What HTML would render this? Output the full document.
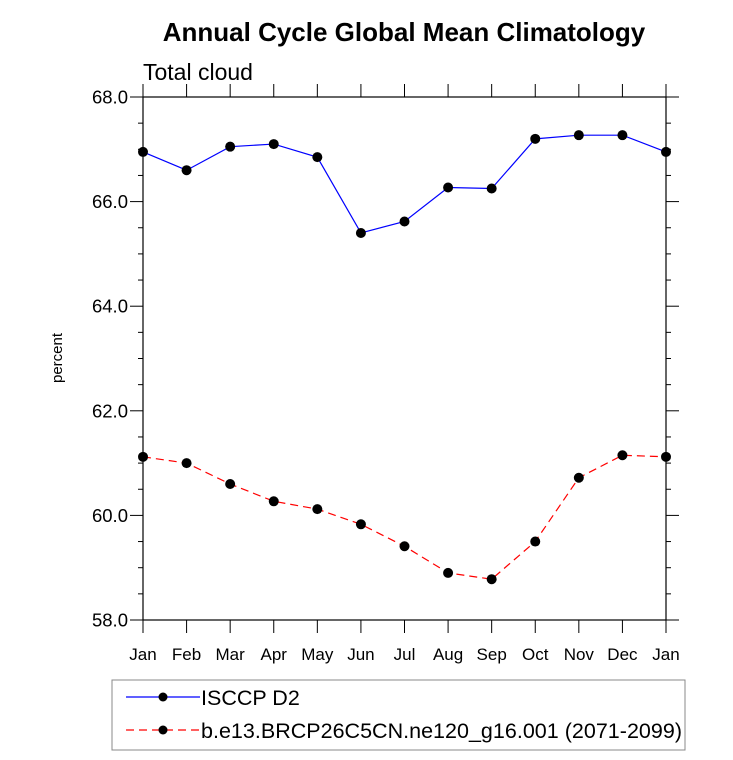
<!DOCTYPE html>
<html><head><meta charset="utf-8"><style>
body{margin:0;background:#fff;}
svg text{font-family:"Liberation Sans",sans-serif;}
</style></head><body>
<svg id="chart" width="733" height="755" xmlns="http://www.w3.org/2000/svg">
<text x="404" y="41" text-anchor="middle" font-size="26" font-weight="bold">Annual Cycle Global Mean Climatology</text>
<text x="143" y="80" font-size="23">Total cloud</text>
<text transform="translate(62,358) rotate(-90)" text-anchor="middle" font-size="15">percent</text>
<g id="axes"></g>
<g id="series"></g>
<rect x="112" y="680" width="573" height="70" fill="none" stroke="#888" stroke-width="1"/>
<line x1="126" y1="697" x2="200" y2="697" stroke="#00f" stroke-width="1.2"/>
<circle cx="163" cy="697" r="4.5" fill="#000"/>
<text x="201" y="705" font-size="21.5">ISCCP D2</text>
<line x1="126" y1="730" x2="200" y2="730" stroke="#f00" stroke-width="1.2" stroke-dasharray="8,5"/>
<circle cx="163" cy="730" r="4.5" fill="#000"/>
<text x="201" y="738" font-size="21.5" textLength="481">b.e13.BRCP26C5CN.ne120_g16.001 (2071-2099)</text>
</svg>
<script>
const months=["Jan","Feb","Mar","Apr","May","Jun","Jul","Aug","Sep","Oct","Nov","Dec","Jan"];
const isccp=[66.95,66.6,67.05,67.1,66.85,65.4,65.62,66.27,66.25,67.2,67.27,67.27,66.95];
const model=[61.12,61.0,60.6,60.27,60.12,59.83,59.41,58.9,58.78,59.5,60.72,61.15,61.12];
const yTicks=[58,60,62,64,66,68];
const NS="http://www.w3.org/2000/svg";
const L=143,R=666,T=97,B=620,ymin=58,ymax=68;
const xs=i=>L+i*(R-L)/(months.length-1);
const ys=v=>B-(v-ymin)/(ymax-ymin)*(B-T);
const axes=document.getElementById('axes'),ser=document.getElementById('series');
function mk(tag,attrs,parent){const e=document.createElementNS(NS,tag);for(const k in attrs)e.setAttribute(k,attrs[k]);parent.appendChild(e);return e;}
let frame=mk('rect',{x:L,y:T,width:R-L,height:B-T,fill:'none',stroke:'#000','stroke-width':1.2},axes);


for(let v=ymin;v<=ymax+1e-9;v+=0.5){
  const major=Math.abs(v-Math.round(v/2)*2)<1e-9;const len=major?13:5;const y=ys(v);
  let t=mk('line',{x1:L-len,y1:y,x2:L,y2:y,stroke:'#000','stroke-width':1},axes);
  
  
  let t2=mk('line',{x1:R,y1:y,x2:R+len,y2:y,stroke:'#000','stroke-width':1},axes);
  
  
}
yTicks.forEach(v=>{
  let tx=mk('text',{x:L-15,y:ys(v)+6.5,'text-anchor':'end','font-size':18.5},axes);tx.textContent=v.toFixed(1);
  
  
});
months.forEach((m,i)=>{
  const x=xs(i);
  let t=mk('line',{x1:x,y1:B,x2:x,y2:B+13,stroke:'#000','stroke-width':1},axes);
  
  
  let t2=mk('line',{x1:x,y1:T-13,x2:x,y2:T,stroke:'#000','stroke-width':1},axes);
  
  
  let tx=mk('text',{x:x,y:B+40,'text-anchor':'middle','font-size':17},axes);tx.textContent=m;
  
  
});
function series(vals,color,dash,name){
  let p=mk('polyline',{points:vals.map((v,i)=>xs(i)+','+ys(v)).join(' '),fill:'none',stroke:color,'stroke-width':1.2,'stroke-dasharray':dash},ser);
  
  
  vals.forEach((v,i)=>{
    let c=mk('circle',{cx:xs(i),cy:ys(v),r:5,fill:'#000'},ser);
    
    
  });
}
series(isccp,'#00f','none','isccp');
series(model,'#f00','8,5','model');
</script>
</body></html>
